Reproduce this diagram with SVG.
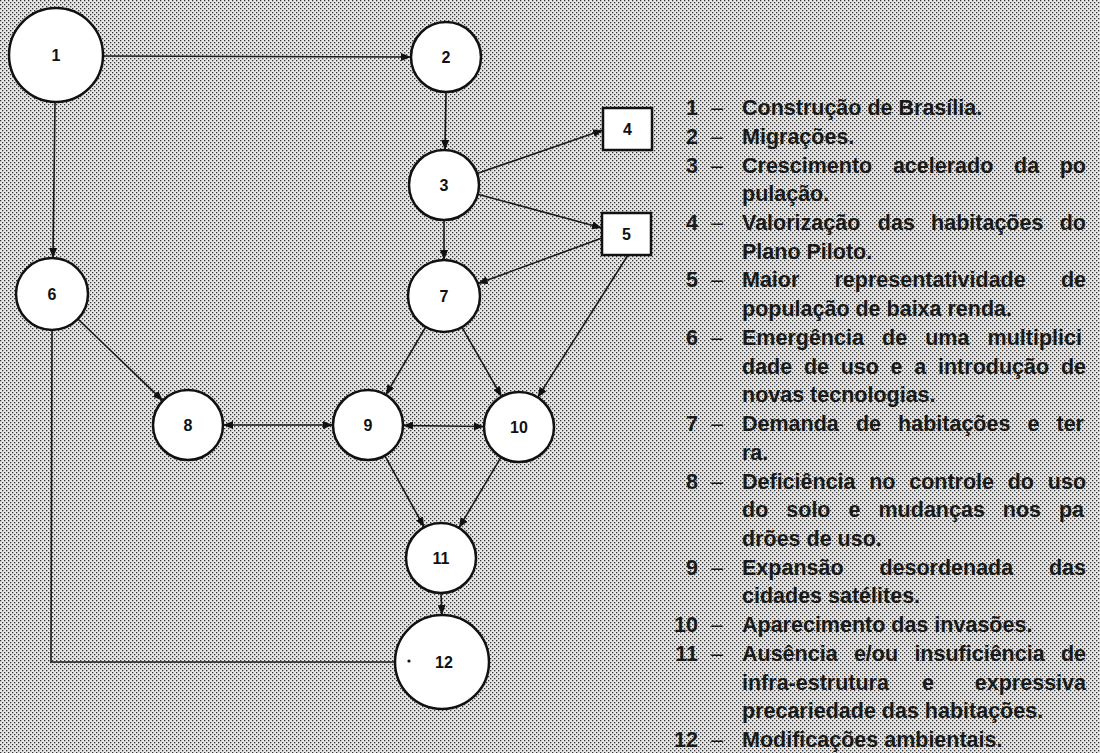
<svg xmlns="http://www.w3.org/2000/svg" width="1100" height="753" viewBox="0 0 1100 753">
  <defs>
    <pattern id="ht" width="4" height="4" patternUnits="userSpaceOnUse">
      <rect width="4" height="4" fill="#e8e8e8"/>
      <rect width="1.3" height="1.3" fill="#333"/>
      <rect x="2" y="2" width="1.3" height="1.3" fill="#333"/>
    </pattern>
    <marker id="ah" viewBox="0 0 10 8" refX="10" refY="4" markerWidth="10" markerHeight="8" markerUnits="userSpaceOnUse" orient="auto-start-reverse">
      <path d="M0,0 L10,4 L0,8 z" fill="#111"/>
    </marker>
    <style>
      .node circle, .node rect { fill: #fff; stroke: #111; stroke-width: 2.5; }
      .node text { font-family: "Liberation Sans", Arial, sans-serif; font-size: 16px; font-weight: bold; fill: #111; text-anchor: middle; }
      .conn line, .conn polyline { stroke: #1a1a1a; stroke-width: 1.6; fill: none; }
      .arr { marker-end: url(#ah); }
      .both { marker-start: url(#ah); marker-end: url(#ah); }
      .legend text { font-family: "Liberation Sans", Arial, sans-serif; font-size: 21.5px; font-weight: bold; fill: #1a1a1a; }
      .legend .num { text-anchor: end; }
      .legend .dash { font-weight: normal; }
      .legend .end { text-anchor: end; }
    </style>
  </defs>

  <rect width="1100" height="753" fill="url(#ht)"/>

  <g id="connectors" class="conn">
    <line class="arr" x1="103" y1="56" x2="411" y2="57"/>
    <line class="arr" x1="55" y1="102" x2="53" y2="258"/>
    <line class="arr" x1="446" y1="92" x2="445" y2="150"/>
    <line class="arr" x1="477" y1="173.6" x2="603" y2="130"/>
    <line class="arr" x1="477.8" y1="194.2" x2="602" y2="228"/>
    <line class="arr" x1="602" y1="238" x2="477.8" y2="283.6"/>
    <line class="arr" x1="444" y1="220" x2="444" y2="260"/>
    <line class="arr" x1="628" y1="255" x2="537.7" y2="397.4"/>
    <line class="arr" x1="461.9" y1="327.2" x2="501.6" y2="396.6"/>
    <line class="arr" x1="425.7" y1="327" x2="385.8" y2="394.8"/>
    <line class="arr" x1="77.9" y1="319" x2="162.8" y2="400.7"/>
    <line class="both" x1="223" y1="425" x2="333" y2="425"/>
    <line class="both" x1="403" y1="425.5" x2="484" y2="426.5"/>
    <line class="arr" x1="384.8" y1="455.7" x2="424.2" y2="527.3"/>
    <line class="arr" x1="501.1" y1="457.1" x2="458.9" y2="527.9"/>
    <line class="arr" x1="441" y1="593" x2="442" y2="615"/>
    <polyline points="395,662 51,662 52,330"/>
  </g>

  <g id="node1" class="node"><circle cx="56" cy="55" r="47"/><text x="56" y="61">1</text></g>
  <g id="node2" class="node"><circle cx="446" cy="57" r="35"/><text x="446" y="63">2</text></g>
  <g id="node3" class="node"><circle cx="444" cy="185" r="35"/><text x="444" y="191">3</text></g>
  <g id="node4" class="node"><rect x="603" y="108" width="49" height="42"/><text x="627.5" y="135">4</text></g>
  <g id="node5" class="node"><rect x="602" y="213" width="49" height="42"/><text x="626.5" y="240">5</text></g>
  <g id="node6" class="node"><circle cx="52" cy="294" r="36"/><text x="52" y="300">6</text></g>
  <g id="node7" class="node"><circle cx="444" cy="296" r="36"/><text x="444" y="302">7</text></g>
  <g id="node8" class="node"><circle cx="188" cy="425" r="35"/><text x="188" y="431">8</text></g>
  <g id="node9" class="node"><circle cx="368" cy="425" r="35"/><text x="368" y="431">9</text></g>
  <g id="node10" class="node"><circle cx="519" cy="427" r="35"/><text x="519" y="433">10</text></g>
  <g id="node11" class="node"><circle cx="441" cy="558" r="35"/><text x="441" y="564">11</text></g>
  <g id="node12" class="node"><circle cx="442" cy="662" r="47"/><circle cx="409" cy="661" r="1.6" style="fill:#111;stroke:none"/><text x="444" y="668">12</text></g>

  <g id="legend" class="legend">
    <text class="num" x="698" y="115">1</text><text class="dash" x="711" y="115">–</text><text x="742" y="115">Construção de Brasília.</text>
    <text class="num" x="698" y="143.7">2</text><text class="dash" x="711" y="143.7">–</text><text x="742" y="143.7">Migrações.</text>
    <text class="num" x="698" y="172.5">3</text><text class="dash" x="711" y="172.5">–</text><text y="172.5"><tspan x="742">Crescimento</tspan><tspan x="892.9">acelerado</tspan><tspan x="1014">da</tspan><tspan x="1059.7">po</tspan></text>
    <text x="742" y="201.2">pulação.</text>
    <text class="num" x="698" y="229.9">4</text><text class="dash" x="711" y="229.9">–</text><text y="229.9"><tspan x="742">Valorização</tspan><tspan x="877.8">das</tspan><tspan x="931.1">habitações</tspan><tspan x="1059.7">do</tspan></text>
    <text x="742" y="258.7">Plano Piloto.</text>
    <text class="num" x="698" y="287.4">5</text><text class="dash" x="711" y="287.4">–</text><text x="742" y="287.4">Maior</text><text x="834.5" y="287.4">representatividade</text><text class="end" x="1086" y="287.4">de</text>
    <text x="742" y="316.1">população de baixa renda.</text>
    <text class="num" x="698" y="344.8">6</text><text class="dash" x="711" y="344.8">–</text><text y="344.8"><tspan x="742">Emergência</tspan><tspan x="882">de</tspan><tspan x="925.2">uma</tspan><tspan x="987.6">multiplici</tspan></text>
    <text y="373.6"><tspan x="742">dade</tspan><tspan x="803.9">de</tspan><tspan x="840.7">uso</tspan><tspan x="890.6">e</tspan><tspan x="914.3">a</tspan><tspan x="938">introdução</tspan><tspan x="1060.9">de</tspan></text>
    <text x="742" y="402.3">novas tecnologias.</text>
    <text class="num" x="698" y="431">7</text><text class="dash" x="711" y="431">–</text><text y="431"><tspan x="742">Demanda</tspan><tspan x="855.9">de</tspan><tspan x="898.1">habitações</tspan><tspan x="1027.5">e</tspan><tspan x="1056.5">ter</tspan></text>
    <text x="742" y="459.8">ra.</text>
    <text class="num" x="698" y="488.5">8</text><text class="dash" x="711" y="488.5">–</text><text y="488.5"><tspan x="742">Deficiência</tspan><tspan x="869.2">no</tspan><tspan x="909.2">controle</tspan><tspan x="1007.7">do</tspan><tspan x="1047.8">uso</tspan></text>
    <text y="517.2"><tspan x="742">do</tspan><tspan x="786.3">solo</tspan><tspan x="848.5">e</tspan><tspan x="878.5">mudanças</tspan><tspan x="1002.8">nos</tspan><tspan x="1058.9">pa</tspan></text>
    <text x="742" y="546">drões de uso.</text>
    <text class="num" x="698" y="574.7">9</text><text class="dash" x="711" y="574.7">–</text><text x="742" y="574.7">Expansão</text><text x="879.4" y="574.7">desordenada</text><text class="end" x="1086" y="574.7">das</text>
    <text x="742" y="603.4">cidades satélites.</text>
    <text class="num" x="698" y="632.1">10</text><text class="dash" x="711" y="632.1">–</text><text x="742" y="632.1">Aparecimento das invasões.</text>
    <text class="num" x="698" y="660.9">11</text><text class="dash" x="711" y="660.9">–</text><text y="660.9"><tspan x="742">Ausência</tspan><tspan x="853.9">e/ou</tspan><tspan x="914.4">insuficiência</tspan><tspan x="1060.9">de</tspan></text>
    <text x="742" y="689.6">infra-estrutura</text><text x="922" y="689.6">e</text><text class="end" x="1086" y="689.6">expressiva</text>
    <text x="742" y="718.3">precariedade das habitações.</text>
    <text class="num" x="698" y="747">12</text><text class="dash" x="711" y="747">–</text><text x="742" y="747">Modificações ambientais.</text>
  </g>
</svg>
